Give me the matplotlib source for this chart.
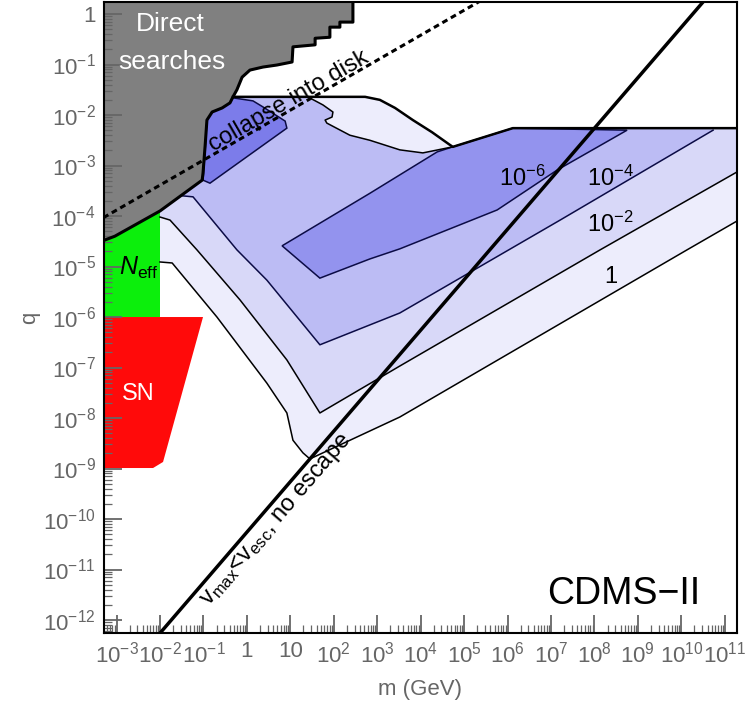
import numpy as np
import matplotlib
matplotlib.use('Agg')
import matplotlib.pyplot as plt
from matplotlib.ticker import FixedLocator, LogLocator, FuncFormatter, NullFormatter

plt.rcParams['font.family'] = ['Liberation Sans', 'DejaVu Sans']
plt.rcParams['mathtext.fontset'] = 'custom'
plt.rcParams['mathtext.rm'] = 'Liberation Sans'
plt.rcParams['mathtext.it'] = 'Liberation Sans:italic'
plt.rcParams['mathtext.bf'] = 'Liberation Sans:bold'

# all values are log10(m / GeV) and log10(q)
# direct searches (grey) boundary, from left edge up to the top
direct_m = [-3.5, -3.04, -2.00, -1.03, -1.01, -0.96, -0.92, -0.80, -0.57, -0.39, -0.32,
            -0.23, -0.11, 0.07, 0.37, 0.69, 1.04, 1.06, 1.57, 1.57, 1.91, 1.91, 2.14,
            2.14, 2.44, 2.44]
direct_q = [-4.55, -4.40, -3.90, -3.29, -3.15, -2.59, -2.10, -1.94, -1.86, -1.76, -1.64,
            -1.50, -1.25, -1.11, -1.05, -1.01, -0.95, -0.65, -0.61, -0.48, -0.46, -0.26,
            -0.26, -0.16, -0.16, 0.5]

# N_eff (green) and SN (red)
neff_m = [-3.5, -2.0, -2.0, -3.5]
neff_q = [-6.0, -6.0, -3.5, -3.5]
sn_m = [-3.5, -1.01, -1.93, -2.16, -3.5]
sn_q = [-6.0, -6.0, -8.87, -8.99, -8.99]

# upper edge of the excluded region (thick line)
top_m = [-0.32, 2.72, 3.06, 3.41, 3.82, 4.26, 4.67, 4.74, 6.12, 11.5]
top_q = [-1.64, -1.64, -1.70, -1.86, -2.10, -2.34, -2.59, -2.63, -2.26, -2.26]

# contour f = 1
c1_m = [-2.00, -1.72, -0.69, 0.46, 0.92, 1.06, 1.29, 1.45, 3.52, 10.13, 11.5]
c1_q = [-4.91, -4.93, -6.00, -7.31, -7.90, -8.44, -8.69, -8.81, -7.98, -4.67, -3.99]
# contour f = 1e-2
c2_m = [-2.00, -1.77, -1.15, -0.16, 0.92, 1.68, 3.52, 8.13, 11.5]
c2_q = [-4.02, -4.08, -4.67, -5.66, -6.85, -7.90, -6.97, -4.67, -3.02]
# contour f = 1e-4
c4_m = [-1.49, -1.24, -0.23, 0.46, 1.68, 3.52, 7.21, 10.73]
c4_q = [-3.60, -3.62, -4.67, -5.27, -6.55, -5.92, -4.08, -2.30]
# contour f = 1e-6 (closed)
c6_m = [0.81, 2.83, 4.38, 4.74, 6.12, 8.75, 7.14, 5.76, 3.52, 2.83, 1.68]
c6_q = [-4.59, -3.55, -2.73, -2.63, -2.26, -2.30, -3.09, -3.88, -4.65, -4.85, -5.23]
# lower edge of the light lens near the top
lens_m = [1.40, 1.75, 1.98, 1.96, 1.80, 1.84, 2.37, 2.83, 3.52, 4.05, 4.74]
lens_q = [-1.64, -1.80, -1.94, -2.04, -2.10, -2.16, -2.40, -2.50, -2.69, -2.75, -2.63]
# darkest blob next to the direct-search region
blob_m = [-1.01, -0.96, -0.92, -0.78, -0.32, 0.14, 0.37, 0.88, 0.92, -0.85]
blob_q = [-3.29, -2.69, -2.10, -1.90, -1.66, -1.72, -1.84, -2.12, -2.26, -3.35]

# collapse into disk (dashed) and v_max < v_esc lines
collapse_m = [-3.5, 6.0]
collapse_q = [-4.13, 0.57]
vesc_m = [-2.5, 11.0]
vesc_q = [-12.76, 0.74]

col1, col2, col4, col6, colblob = '#EDEDFC', '#D8D8F8', '#BCBCF4', '#9393EE', '#7C7CEA'
navy = '#0B0B45'


def P(lm, lq):
    return 10.0 ** np.asarray(lm, float), 10.0 ** np.asarray(lq, float)


fig = plt.figure(figsize=(7.5, 7.11), dpi=100)
ax = fig.add_axes([104 / 750, 1 - 633 / 711, 633 / 750, 631 / 711])
ax.set_xscale('log')
ax.set_yscale('log')
ax.set_xlim(10 ** -3.289, 10 ** 11.28)
ax.set_ylim(10 ** -12.257, 10 ** 0.238)

# filled regions, outermost first
top_rm, top_rq = top_m[::-1], top_q[::-1]
ax.fill(*P(c1_m + top_rm + [-2.0], c1_q + top_rq + [-1.64]), color=col1, lw=0)
ax.fill(*P(c2_m + top_rm + [-2.0], c2_q + top_rq + [-1.64]), color=col2, lw=0)
sel = [i for i in range(len(top_m)) if top_m[i] < 10.73][::-1]
ax.fill(*P(c4_m + [10.73] + [top_m[i] for i in sel] + [-1.49],
           c4_q + [-2.26] + [top_q[i] for i in sel] + [-1.64]), color=col4, lw=0)
sel = [i for i in range(len(top_m)) if 1.40 < top_m[i] < 4.74][::-1]
ax.fill(*P(lens_m + [top_m[i] for i in sel] + [1.40],
           lens_q + [top_q[i] for i in sel] + [-1.64]), color=col1, lw=0)
ax.fill(*P(c6_m, c6_q), facecolor=col6, edgecolor=navy, lw=1.1)
ax.fill(*P(blob_m, blob_q), facecolor=colblob, edgecolor=navy, lw=1.1)

ax.fill(*P(neff_m, neff_q), color='#0CEF0C', lw=0)
ax.fill(*P(sn_m, sn_q), color='#FF0A0A', lw=0)
ax.fill(*P(direct_m + [-3.5], direct_q + [0.5]), color='#808080', lw=0)

# contour lines
ax.plot(*P(c1_m, c1_q), color='black', lw=1.1)
ax.plot(*P(c2_m, c2_q), color='black', lw=1.1)
ax.plot(*P(c4_m, c4_q), color=navy, lw=1.1)
ax.plot(*P(lens_m, lens_q), color='black', lw=1.1)
ax.plot(*P(top_m, top_q), color='black', lw=1.8)
ax.plot(*P(direct_m, direct_q), color='black', lw=2.2)
ax.plot(*P(collapse_m, collapse_q), color='black', lw=2.2, ls=(0, (1.9, 1.3)))
ax.plot(*P(vesc_m, vesc_q), color='black', lw=2.5)

# labels
ax.text(*P(-1.77, -0.20), 'Direct', color='white', fontsize=19, ha='center', va='center')
ax.text(*P(-1.72, -0.95), 'searches', color='white', fontsize=19, ha='center', va='center')
ax.text(*P(0.97, -1.72), 'collapse into disk', fontsize=17, rotation=30,
        ha='center', va='center', rotation_mode='anchor')
ax.text(*P(0.69, -10.02), r'$\mathrm{v}_{\rm max}$<$\mathrm{v}_{\rm esc}$, no escape',
        fontsize=17, rotation=49.3, ha='center', va='center', rotation_mode='anchor')
ax.text(*P(-2.48, -5.03), r'$N_{\rm eff}$', fontsize=18, ha='center', va='center')
ax.text(*P(-2.51, -7.52), 'SN', color='white', fontsize=17, ha='center', va='center')
ax.text(*P(8.68, -11.49), 'CDMS\u2212II', fontsize=27, ha='center', va='center')
ax.text(*P(6.35, -3.25), r'$10^{-6}$', fontsize=17, ha='center', va='center')
ax.text(*P(8.36, -3.25), r'$10^{-4}$', fontsize=17, ha='center', va='center')
ax.text(*P(8.36, -4.16), r'$10^{-2}$', fontsize=17, ha='center', va='center')
ax.text(*P(8.38, -5.21), '1', fontsize=17, ha='center', va='center')


def fmt(v, pos):
    e = int(round(np.log10(v)))
    if e == 0:
        return '1'
    if e == 1:
        return '10'
    return r'$10^{%d}$' % e


tick_grey = '#666666'
ax.xaxis.set_major_locator(FixedLocator(10.0 ** np.arange(-3, 12)))
ax.yaxis.set_major_locator(FixedLocator(10.0 ** np.arange(-12, 1)))
for axis in (ax.xaxis, ax.yaxis):
    axis.set_major_formatter(FuncFormatter(fmt))
    axis.set_minor_locator(LogLocator(base=10, subs=np.arange(2, 10), numticks=100))
    axis.set_minor_formatter(NullFormatter())
ax.tick_params(which='major', direction='in', length=13, width=1.3, color=tick_grey,
               labelcolor=tick_grey, labelsize=16, pad=6)
ax.tick_params(which='minor', direction='in', length=6, width=0.9, color=tick_grey)
for s in ax.spines.values():
    s.set_linewidth(1.5)
    s.set_zorder(10)

ax.set_xlabel('m (GeV)', fontsize=16, color=tick_grey)
ax.set_ylabel('q', fontsize=16, color=tick_grey)
ax.xaxis.set_label_coords(0.5, -57 / 631)
ax.xaxis.label.set_va('center')
ax.yaxis.set_label_coords(-74 / 633, 0.5)
ax.yaxis.label.set_va('center')

fig.savefig('out.png', dpi=100)
